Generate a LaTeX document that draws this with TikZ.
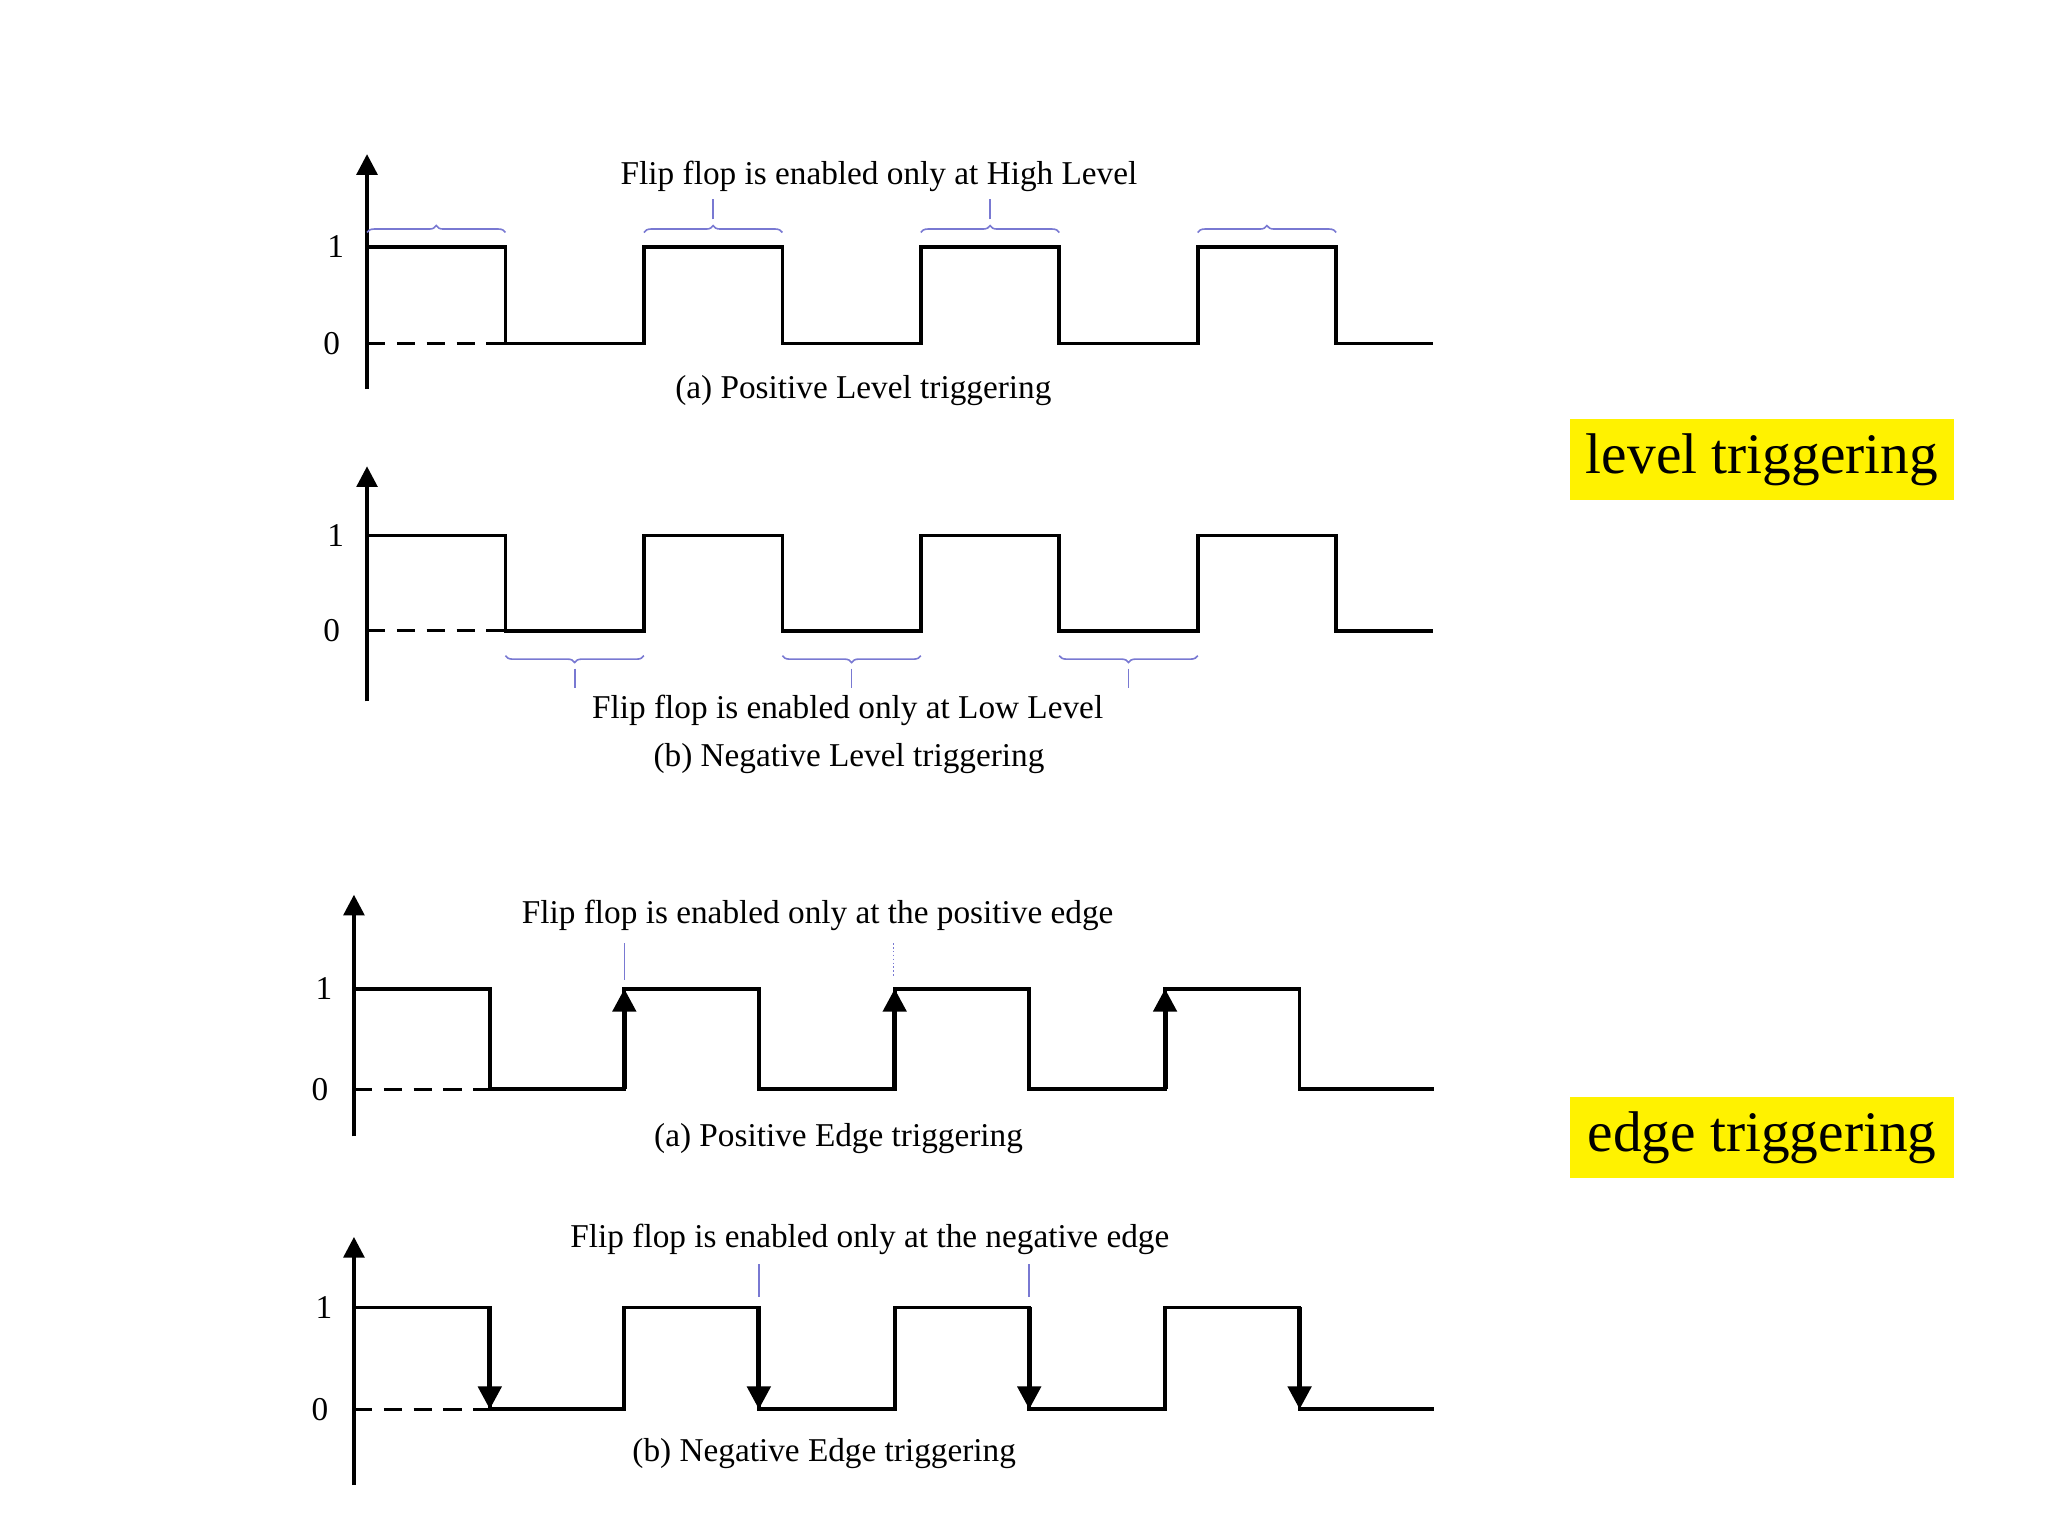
\documentclass[tikz,border=0pt]{standalone}
\usepackage{fontspec}
\setmainfont{Liberation Serif}
\usetikzlibrary{arrows.meta,decorations.pathreplacing}
\begin{document}
\begin{tikzpicture}[x=0.02cm,y=-0.02cm,
  sig/.style={line width=1.6pt},
  ax/.style={line width=1.6pt,-{Triangle[width=9pt,length=9pt]}},
  ed/.style={line width=2.2pt,-{Triangle[width=10pt,length=10pt]}},
  br/.style={draw=gray!50!blue!70,line width=0.7pt,decorate,decoration={brace,amplitude=3pt}},
  tk/.style={draw=gray!50!blue!70,line width=0.7pt},
  dsh/.style={line width=1.4pt,dash pattern=on 8pt off 5pt},
  lab/.style={font=\fontsize{14.5}{16}\selectfont},
  yl/.style={fill=yellow,font=\fontsize{25}{30}\selectfont,inner sep=0pt,minimum width=294*0.02cm,minimum height=62*0.02cm}]
\useasboundingbox (0,0) rectangle (1568,1176);
% ---- plot 1
\draw[ax] (281,298) -- (281,118);
\node[lab] (o1) at (257,189) {1}; \node[lab] (z1) at (254,263) {0};
\draw[sig] (281,189) -- (387,189) -- (387,263) -- (493,263) -- (493,189) -- (599,189) -- (599,263) -- (705,263) -- (705,189) -- (811,189) -- (811,263) -- (917,263) -- (917,189) -- (1023,189) -- (1023,263) -- (1097,263);
\draw[dsh] (281,263) -- (387,263);
\foreach \x in {281,493,705,917}{\draw[br] (\x,178) -- (\x+106,178);}
\draw[tk] (546,168) -- (546,152); \draw[tk] (758,168) -- (758,152);
\node[lab] (t1) at (673,135) {Flip flop is enabled only at High Level};
\node[lab] (c1) at (661,299) {(a) Positive Level triggering};
% ---- plot 2
\draw[ax] (281,537) -- (281,357);
\node[lab] (o2) at (257,410) {1}; \node[lab] (z2) at (254,483) {0};
\draw[sig] (281,410) -- (387,410) -- (387,483) -- (493,483) -- (493,410) -- (599,410) -- (599,483) -- (705,483) -- (705,410) -- (811,410) -- (811,483) -- (917,483) -- (917,410) -- (1023,410) -- (1023,483) -- (1097,483);
\draw[dsh] (281,483) -- (387,483);
\foreach \x in {387,599,811}{\draw[br] (\x+106,502) -- (\x,502);}
\draw[tk] (440,512) -- (440,527); \draw[tk] (652,512) -- (652,527); \draw[tk] (864,512) -- (864,527);
\node[lab] (t2) at (649,544) {Flip flop is enabled only at Low Level};
\node[lab] (c2) at (650,581) {(b) Negative Level triggering};
% ---- plot 3
\draw[ax] (271,870) -- (271,685);
\node[lab] (o3) at (248,757) {1}; \node[lab] (z3) at (245,834) {0};
\draw[sig] (271,757) -- (375,757) -- (375,834) -- (478,834) -- (478,757) -- (581,757) -- (581,834) -- (685,834) -- (685,757) -- (788,757) -- (788,834) -- (892,834) -- (892,757) -- (995,757) -- (995,834) -- (1098,834);
\draw[dsh] (271,834) -- (375,834);
\foreach \x in {478,685,892}{\draw[ed] (\x,834) -- (\x,757);}
\draw[tk] (478,722) -- (478,750); \draw[tk,densely dotted] (684,722) -- (684,748);
\node[lab] (t3) at (626,701) {Flip flop is enabled only at the positive edge};
\node[lab] (c3) at (642,872) {(a) Positive Edge triggering};
% ---- plot 4
\draw[ax] (271,1137) -- (271,947);
\node[lab] (o4) at (248,1001) {1}; \node[lab] (z4) at (245,1079) {0};
\draw[sig] (271,1001) -- (375,1001) -- (375,1079) -- (478,1079) -- (478,1001) -- (581,1001) -- (581,1079) -- (685,1079) -- (685,1001) -- (788,1001) -- (788,1079) -- (892,1079) -- (892,1001) -- (995,1001) -- (995,1079) -- (1098,1079);
\draw[dsh] (271,1079) -- (375,1079);
\foreach \x in {375,581,788,995}{\draw[ed] (\x,1001) -- (\x,1079);}
\draw[tk] (581,968) -- (581,993); \draw[tk] (788,968) -- (788,993);
\node[lab] (t4) at (666,949) {Flip flop is enabled only at the negative edge};
\node[lab] (c4) at (631,1113) {(b) Negative Edge triggering};
% ---- yellow labels
\node[yl] (lv) at (1349,352) {level triggering};
\node[yl] (eg) at (1349,871) {edge triggering};
\end{tikzpicture}
\end{document}
